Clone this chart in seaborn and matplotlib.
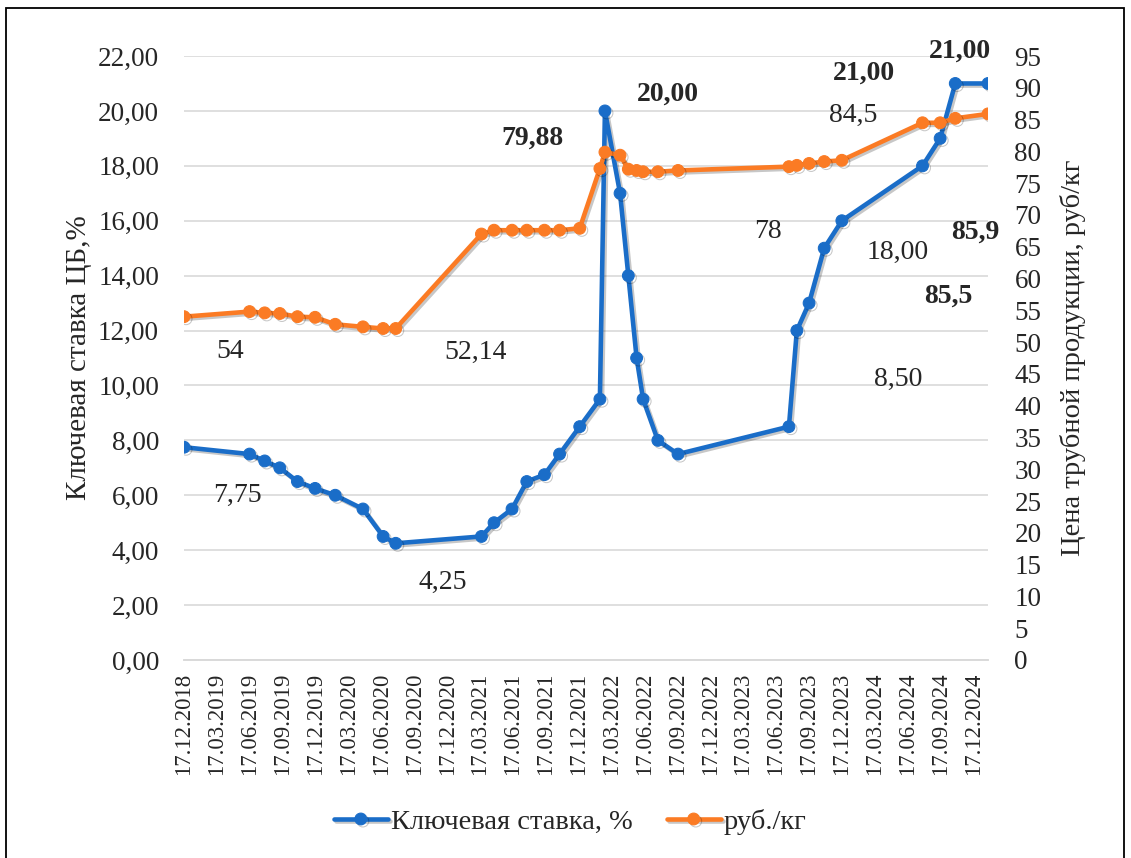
import matplotlib
matplotlib.use("Agg")
import matplotlib.pyplot as plt
import matplotlib.dates as mdates
import matplotlib.patheffects as pe
from matplotlib.patches import Rectangle
from matplotlib.ticker import FuncFormatter, MultipleLocator
import pandas as pd
import seaborn as sns

# | Data |--------------------------------------------------------------------------------------------------------------|
dates = ["2018-12-17", "2019-06-17", "2019-07-29", "2019-09-09", "2019-10-28", "2019-12-16",
         "2020-02-10", "2020-04-27", "2020-06-22", "2020-07-27", "2021-03-22", "2021-04-26",
         "2021-06-15", "2021-07-26", "2021-09-13", "2021-10-25", "2021-12-20", "2022-02-14",
         "2022-02-28", "2022-04-11", "2022-05-04", "2022-05-27", "2022-06-14", "2022-07-25",
         "2022-09-19", "2023-07-24", "2023-08-15", "2023-09-18", "2023-10-30", "2023-12-18",
         "2024-07-29", "2024-09-16", "2024-10-28", "2025-01-27"]

key_rate = [7.75, 7.5, 7.25, 7.0, 6.5, 6.25, 6.0, 5.5, 4.5, 4.25, 4.5, 5.0,
            5.5, 6.5, 6.75, 7.5, 8.5, 9.5, 20.0, 17.0, 14.0, 11.0, 9.5, 8.0,
            7.5, 8.5, 12.0, 13.0, 15.0, 16.0, 18.0, 19.0, 21.0, 21.0]

pipe_price = [54.0, 54.8, 54.6, 54.5, 54.0, 53.9, 52.8, 52.4, 52.14, 52.14, 67.0, 67.6,
              67.6, 67.6, 67.6, 67.6, 67.9, 77.3, 79.88, 79.4, 77.2, 77.0, 76.8, 76.8,
              77.0, 77.6, 77.8, 78.1, 78.4, 78.6, 84.5, 84.5, 85.2, 85.9]

rate_label = "Ключевая ставка, %"
price_label = "руб./кг"
left_title = "Ключевая ставка ЦБ,%"
right_title = "Цена трубной продукции, руб/кг"

# value labels: text, axes-fraction x, axes-fraction y, bold
notes = [("54", 0.057, 0.51, False), ("52,14", 0.362, 0.51, False),
         ("7,75", 0.067, 0.273, False), ("4,25", 0.322, 0.129, False),
         ("79,88", 0.433, 0.864, True), ("20,00", 0.602, 0.937, True),
         ("78", 0.726, 0.709, False), ("84,5", 0.832, 0.901, False),
         ("18,00", 0.887, 0.675, False), ("8,50", 0.888, 0.464, False),
         ("21,00", 0.846, 0.972, True), ("21,00", 0.965, 1.008, True),
         ("85,9", 0.984, 0.709, True), ("85,5", 0.950, 0.603, True)]
# |--------------------------------------------------------------------------------------------------------------------|

BLUE = "#1a6dc8"
ORANGE = "#fb7b24"
GRID = "#d9d9d9"

sns.set_style("white")
plt.rcParams["font.family"] = ["Liberation Serif", "DejaVu Serif"]

df = pd.DataFrame({"date": pd.to_datetime(dates), "rate": key_rate, "price": pipe_price})

fig = plt.figure(figsize=(11.31, 8.58), dpi=100)
ax = fig.add_axes([0.1627, 0.2308, 0.7109, 0.7039])
ax2 = ax.twinx()

shadow = [pe.SimpleLineShadow(offset=(1.5, -1.5), alpha=0.22, shadow_color="black"), pe.Normal()]

sns.lineplot(data=df, x="date", y="rate", ax=ax, color=BLUE, lw=3.3, marker="o", ms=8.5,
             mec=BLUE, label=rate_label, legend=False, path_effects=shadow)
sns.lineplot(data=df, x="date", y="price", ax=ax2, color=ORANGE, lw=3.3, marker="o", ms=8.5,
             mec=ORANGE, label=price_label, legend=False, path_effects=shadow)

ax.set_xlim(df["date"].iloc[0], df["date"].iloc[-1])
ax.set_ylim(0, 22)
ax2.set_ylim(0, 95)
ax.yaxis.set_major_locator(MultipleLocator(2))
ax2.yaxis.set_major_locator(MultipleLocator(5))
ax.yaxis.set_major_formatter(FuncFormatter(lambda v, p: f"{v:.2f}".replace(".", ",")))
ax2.yaxis.set_major_formatter(FuncFormatter(lambda v, p: f"{v:.0f}"))

ax.xaxis.set_major_locator(mdates.MonthLocator(bymonth=(3, 6, 9, 12), bymonthday=17))
ax.xaxis.set_major_formatter(mdates.DateFormatter("%d.%m.%Y"))
ax.tick_params(axis="x", rotation=90, labelsize=16.5, length=6, width=1.2, color=GRID, pad=3)
ax.tick_params(axis="y", labelsize=19.5, length=0, pad=18)
ax2.tick_params(axis="y", labelsize=19.5, length=0, pad=19)

ax.grid(axis="y", color=GRID, lw=1.2)
ax.set_axisbelow(True)
for a in (ax, ax2):
    for s in ("top", "left", "right"):
        a.spines[s].set_visible(False)
    a.spines["bottom"].set_color(GRID)
    a.spines["bottom"].set_linewidth(1.2)

ax.set_xlabel("")
ax.set_ylabel(left_title, fontsize=21, labelpad=4)
ax2.set_ylabel(right_title, fontsize=20.5, labelpad=13)

for txt, fx, fy, bold in notes:
    ax.text(fx, fy, txt, transform=ax.transAxes, ha="center", va="center", fontsize=20,
            fontweight="bold" if bold else "normal", clip_on=False, zorder=6)

h1, l1 = ax.get_legend_handles_labels()
h2, l2 = ax2.get_legend_handles_labels()
fig.legend(h1 + h2, l1 + l2, loc="center", bbox_to_anchor=(0.504, 0.042), ncol=2, frameon=False,
           fontsize=20.5, handlelength=1.9, columnspacing=1.2, handletextpad=0.1)

fig.patches.append(Rectangle((6 / 1131, -0.01), 1118 / 1131, 1.0 - 8 / 858 + 0.01,
                             transform=fig.transFigure, fill=False, ec="black", lw=1.3))

fig.savefig("out.png", dpi=100)
